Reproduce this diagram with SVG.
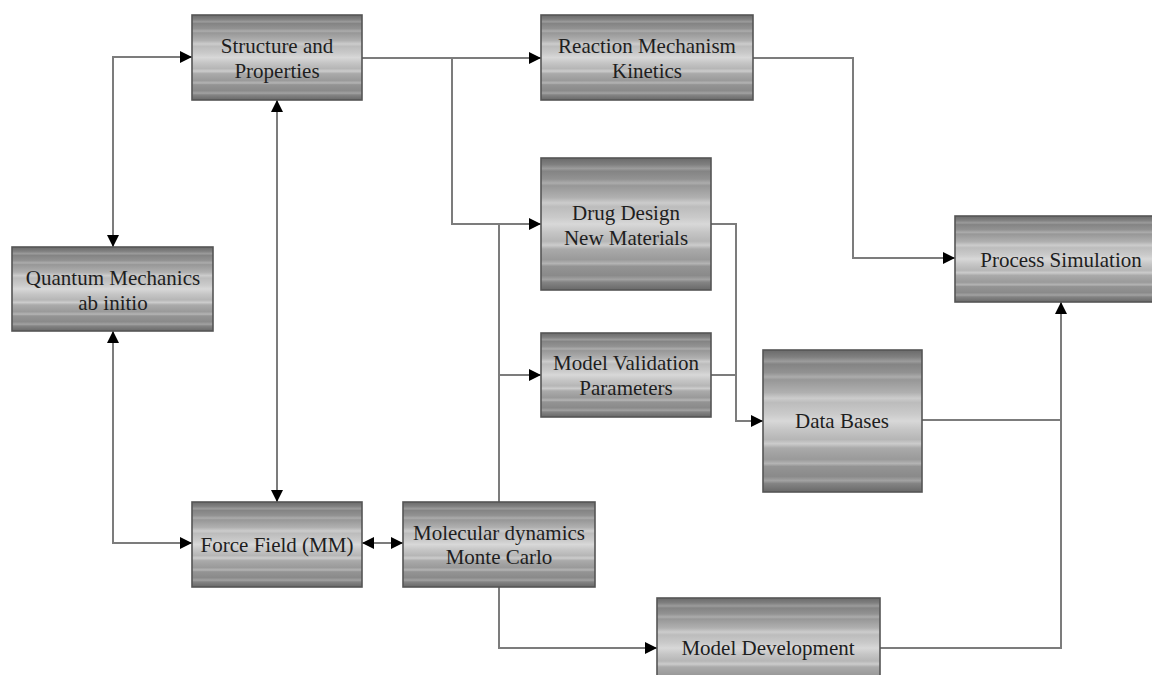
<svg xmlns="http://www.w3.org/2000/svg" width="1152" height="675" viewBox="0 0 1152 675">
<style>
.box{fill:url(#shade);stroke:#555555;stroke-width:1.6}
.lbl{font-family:"Liberation Serif","Times New Roman",serif;font-size:21px;fill:#1e1e1e;text-anchor:middle}
.con{fill:none;stroke:#7c7c7c;stroke-width:2}
.a{marker-end:url(#arr)}
.b{marker-start:url(#arrS);marker-end:url(#arr)}
</style>
<defs>
<linearGradient id="shade" x1="0" y1="0" x2="0" y2="1">
<stop offset="0" stop-color="#6a6a6a"/>
<stop offset="0.05" stop-color="#808080"/>
<stop offset="0.08" stop-color="#9c9c9c"/>
<stop offset="0.10" stop-color="#848484"/>
<stop offset="0.16" stop-color="#929292"/>
<stop offset="0.19" stop-color="#acacac"/>
<stop offset="0.21" stop-color="#979797"/>
<stop offset="0.30" stop-color="#b0b0b0"/>
<stop offset="0.34" stop-color="#cccccc"/>
<stop offset="0.37" stop-color="#bcbcbc"/>
<stop offset="0.45" stop-color="#cacaca"/>
<stop offset="0.50" stop-color="#d8d8d8"/>
<stop offset="0.56" stop-color="#c6c6c6"/>
<stop offset="0.63" stop-color="#b6b6b6"/>
<stop offset="0.66" stop-color="#cccccc"/>
<stop offset="0.69" stop-color="#aaaaaa"/>
<stop offset="0.77" stop-color="#9a9a9a"/>
<stop offset="0.80" stop-color="#b4b4b4"/>
<stop offset="0.82" stop-color="#949494"/>
<stop offset="0.89" stop-color="#8a8a8a"/>
<stop offset="0.92" stop-color="#a2a2a2"/>
<stop offset="0.94" stop-color="#848484"/>
<stop offset="1" stop-color="#686868"/>
</linearGradient>
<marker id="arr" viewBox="0 0 12 12" refX="12" refY="6" markerWidth="12" markerHeight="12" markerUnits="userSpaceOnUse" orient="auto">
<path d="M0,0 L12,6 L0,12 Z" fill="#000"/>
</marker>
<marker id="arrS" viewBox="0 0 12 12" refX="0" refY="6" markerWidth="12" markerHeight="12" markerUnits="userSpaceOnUse" orient="auto">
<path d="M12,0 L0,6 L12,12 Z" fill="#000"/>
</marker>
</defs>
<rect width="1152" height="675" fill="#fff"/>

<g id="connectors">
<path class="con a" d="M362,58 H541"/>
<path class="con a" d="M452,58 V224 H541"/>
<path class="con" d="M499,224 V502"/>
<path class="con a" d="M499,375 H541"/>
<path class="con a" d="M711,224 H736 V421 H763"/>
<path class="con" d="M711,375 H736"/>
<path class="con a" d="M753,58 H853 V258 H955"/>
<path class="con" d="M922,420 H1061"/>
<path class="con a" d="M499,587 V648 H657"/>
<path class="con a" d="M880,648 H1061 V302"/>
<path class="con b" d="M192,57 H113 V247"/>
<path class="con b" d="M113,331 V543 H192"/>
<path class="con b" d="M277,100 V502"/>
<path class="con b" d="M362,543 H403"/>
</g>

<g id="structure">
<rect class="box" x="192" y="15" width="170" height="85"/>
<text class="lbl" x="277" y="53">Structure and</text>
<text class="lbl" x="277" y="78">Properties</text>
</g>
<g id="reaction">
<rect class="box" x="541" y="15" width="212" height="85"/>
<text class="lbl" x="647" y="53">Reaction Mechanism</text>
<text class="lbl" x="647" y="78">Kinetics</text>
</g>
<g id="quantum">
<rect class="box" x="12" y="247" width="201" height="84"/>
<text class="lbl" x="113" y="285">Quantum Mechanics</text>
<text class="lbl" x="113" y="310">ab initio</text>
</g>
<g id="drug">
<rect class="box" x="541" y="158" width="170" height="132"/>
<text class="lbl" x="626" y="220">Drug Design</text>
<text class="lbl" x="626" y="245">New Materials</text>
</g>
<g id="validation">
<rect class="box" x="541" y="333" width="170" height="84"/>
<text class="lbl" x="626" y="370">Model Validation</text>
<text class="lbl" x="626" y="395">Parameters</text>
</g>
<g id="process">
<rect class="box" x="955" y="216" width="212" height="86"/>
<text class="lbl" x="1061" y="267">Process Simulation</text>
</g>
<g id="databases">
<rect class="box" x="763" y="350" width="159" height="142"/>
<text class="lbl" x="842" y="428">Data Bases</text>
</g>
<g id="forcefield">
<rect class="box" x="192" y="502" width="170" height="85"/>
<text class="lbl" x="277" y="552">Force Field (MM)</text>
</g>
<g id="md">
<rect class="box" x="403" y="502" width="192" height="85"/>
<text class="lbl" x="499" y="540">Molecular dynamics</text>
<text class="lbl" x="499" y="564">Monte Carlo</text>
</g>
<g id="modeldev">
<rect class="box" x="657" y="598" width="223" height="100"/>
<text class="lbl" x="768" y="655">Model Development</text>
</g>
</svg>
